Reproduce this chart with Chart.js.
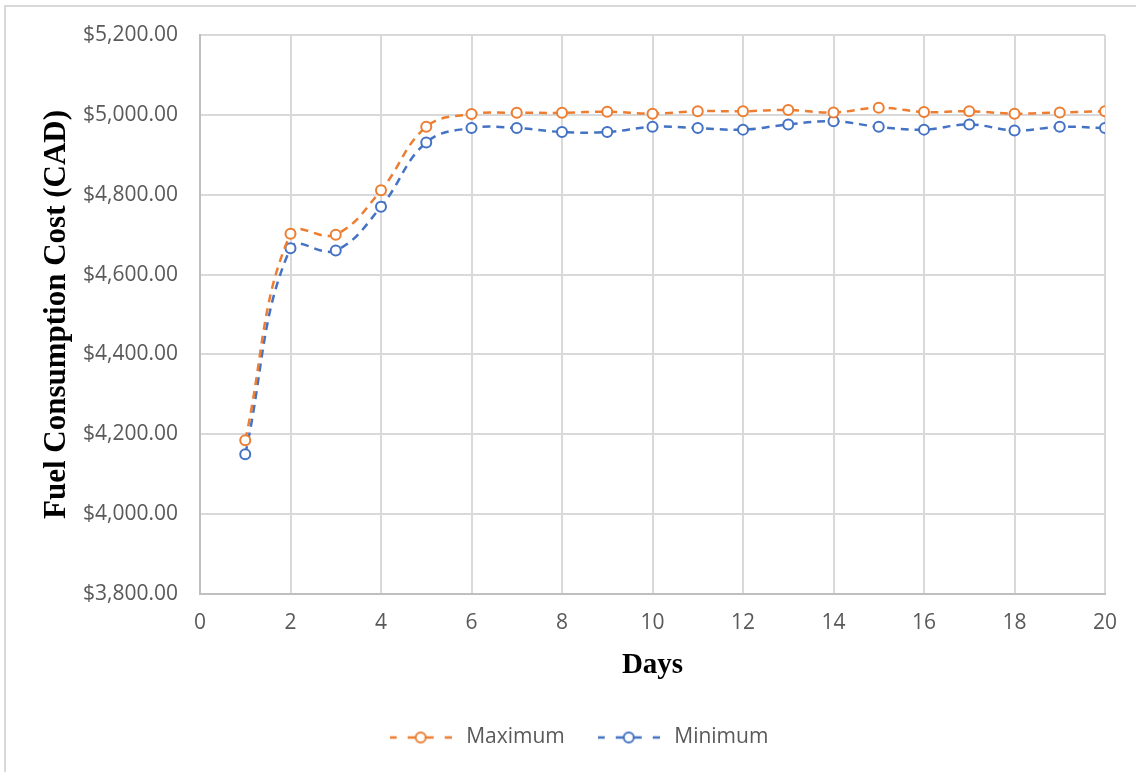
<!DOCTYPE html>
<html>
<head>
<meta charset="utf-8">
<script src="https://cdn.jsdelivr.net/npm/chart.js@4.4.1/dist/chart.umd.min.js"></script>
<style>
  html, body { margin: 0; padding: 0; background: #fff; }
  #wrap { position: relative; width: 1136px; height: 772px; }
  #frame { position: absolute; left: 4px; top: 5px; right: 0; bottom: 0;
           border-left: 2px solid #d9d9d9; border-top: 2px solid #d9d9d9; }
  canvas { position: absolute; left: 0; top: 0; }
</style>
</head>
<body>
<div id="wrap">
  <div id="frame"></div>
  <canvas id="fuelChart" width="1136" height="772"></canvas>
</div>
<script>
  // data
  const days = [1, 2, 3, 4, 5, 6, 7, 8, 9, 10, 11, 12, 13, 14, 15, 16, 17, 18, 19, 20];
  const maximumCost = [4185, 4702, 4700, 4811, 4970, 5002, 5005, 5005, 5008, 5003,
                       5009, 5009, 5012, 5006, 5018, 5007, 5009, 5003, 5006, 5009];
  const minimumCost = [4150, 4666, 4660, 4770, 4931, 4967, 4967, 4957, 4957, 4970,
                       4967, 4963, 4976, 4984, 4970, 4963, 4976, 4961, 4970, 4967];
  const yTicks = [3800, 4000, 4200, 4400, 4600, 4800, 5000, 5200];
  const xTicks = [0, 2, 4, 6, 8, 10, 12, 14, 16, 18, 20];

  const orange = '#ed7d31';
  const blue = '#4472c4';
  const tickColor = '#595959';
  const gridColor = '#d9d9d9';

  // legend swatch: dashed line with an open circle in the middle
  function legendSwatch(color) {
      const c = document.createElement('canvas');
      c.width = 62;
      c.height = 14;
      const g = c.getContext('2d');
      g.strokeStyle = color;
      g.lineWidth = 2.5;
      [[0, 7], [18, 26], [36, 44], [55, 62]].forEach(s => {
          g.beginPath();
          g.moveTo(s[0], 7);
          g.lineTo(s[1], 7);
          g.stroke();
      });
      g.fillStyle = '#fff';
      g.lineWidth = 2;
      g.beginPath();
      g.arc(31, 7, 5, 0, Math.PI * 2);
      g.fill();
      g.stroke();
      return c;
  }

  function toPoints(values) {
      return days.map((d, i) => ({ x: d, y: values[i] }));
  }

  const ctx = document.getElementById('fuelChart').getContext('2d');

  new Chart(ctx, {
      type: 'line',
      data: {
          datasets: [{
              label: 'Maximum',
              data: toPoints(maximumCost),
              borderColor: orange,
              borderWidth: 2.5,
              borderDash: [8, 6],
              tension: 0.4,
              pointRadius: 5,
              pointBorderWidth: 2,
              pointBackgroundColor: '#fff',
              pointBorderColor: orange,
              pointStyle: 'circle',
              swatch: legendSwatch(orange)
          }, {
              label: 'Minimum',
              data: toPoints(minimumCost),
              borderColor: blue,
              borderWidth: 2.5,
              borderDash: [8, 6],
              tension: 0.4,
              pointRadius: 5,
              pointBorderWidth: 2,
              pointBackgroundColor: '#fff',
              pointBorderColor: blue,
              pointStyle: 'circle',
              swatch: legendSwatch(blue)
          }]
      },
      options: {
          responsive: false,
          animation: false,
          layout: {
              padding: { top: 35, right: 31, bottom: 14, left: 49 }
          },
          plugins: {
              tooltip: { enabled: false },
              legend: {
                  position: 'bottom',
                  labels: {
                      usePointStyle: true,
                      pointStyleWidth: 70,
                      padding: 29,
                      color: tickColor,
                      font: { family: 'Open Sans', size: 21 },
                      generateLabels: function(chart) {
                          return chart.data.datasets.map((ds, i) => ({
                              text: ds.label,
                              pointStyle: ds.swatch,
                              fontColor: tickColor,
                              strokeStyle: ds.borderColor,
                              fillStyle: '#fff',
                              lineWidth: 0,
                              hidden: false,
                              datasetIndex: i
                          }));
                      }
                  }
              }
          },
          scales: {
              x: {
                  type: 'linear',
                  min: 0,
                  max: 20,
                  afterBuildTicks: function(scale) {
                      scale.ticks = xTicks.map(v => ({ value: v }));
                  },
                  afterFit: function(scale) {
                      scale.height = 104;
                  },
                  grid: {
                      color: gridColor,
                      lineWidth: 2,
                      drawTicks: false
                  },
                  border: { color: '#bfbfbf', width: 2 },
                  ticks: {
                      color: tickColor,
                      padding: 16,
                      font: { family: 'Open Sans', size: 21 }
                  },
                  title: {
                      display: true,
                      text: 'Days',
                      color: '#000',
                      font: { family: 'Liberation Serif', size: 29, weight: 'bold' },
                      padding: { top: 0, bottom: 15 }
                  }
              },
              y: {
                  min: 3800,
                  max: 5200,
                  afterBuildTicks: function(scale) {
                      scale.ticks = yTicks.map(v => ({ value: v }));
                  },
                  afterFit: function(scale) {
                      scale.width = 151;
                  },
                  grid: {
                      color: gridColor,
                      lineWidth: 2,
                      drawTicks: false
                  },
                  border: { color: '#bfbfbf', width: 2 },
                  ticks: {
                      color: tickColor,
                      padding: 22,
                      font: { family: 'Open Sans', size: 21 },
                      callback: function(value) {
                          return '$' + value.toLocaleString('en-US', { minimumFractionDigits: 2, maximumFractionDigits: 2 });
                      }
                  },
                  title: {
                      display: true,
                      text: 'Fuel Consumption Cost (CAD)',
                      color: '#000',
                      font: { family: 'Liberation Serif', size: 31, weight: 'bold', lineHeight: 0.5 },
                      padding: { top: 0, bottom: 0 }
                  }
              }
          }
      }
  });
</script>
</body>
</html>
